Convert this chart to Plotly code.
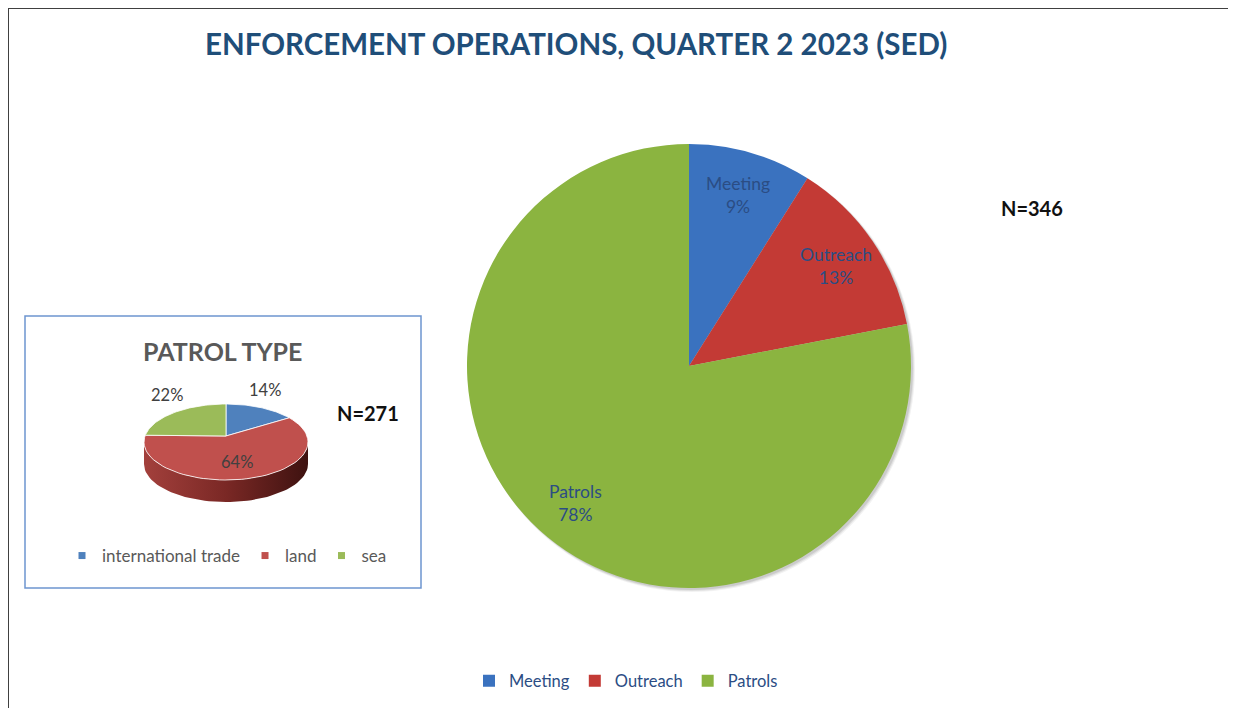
import math
import plotly.graph_objects as go

W, H = 1236, 708
OFF = 8  # page body margin: figure starts 8px in from the window edge
FONT = "Lato"

# main pie: enforcement operations, N=346
OPS_LABELS = ["Meeting", "Outreach", "Patrols"]
OPS_COUNTS = [31, 45, 270]
OPS_COLORS = ["#3a72bf", "#c33a35", "#8bb440"]

# inset pie: patrol type, N=271
PATROL_LABELS = ["international trade", "land", "sea"]
PATROL_COUNTS = [38, 173, 60]
PATROL_TOP = ["#4f81bd", "#c0504d", "#9bbb59"]
PATROL_SIDE = [
    [[0, "#4a74a8"], [1, "#1f3a5e"]],
    [[0, "#a3403c"], [0.5, "#7a2825"], [1, "#3e1210"]],
    [[0, "#86a24a"], [1, "#4a5e24"]],
]

LABEL_BLUE = "#2b4d84"
TITLE_BLUE = "#1f4e79"
GREY = "#595959"

# pixel geometry (window coordinates)
PIE_CX, PIE_CY, PIE_R = 689, 366, 222
CX, CY, RX, RY, DEPTH, APEX_DY = 226, 442, 82, 38, 22, -6

FW, FH = W - OFF, H - OFF


def px(x):
    return (x - OFF) / FW


def py(y):
    return 1 - (y - OFF) / FH


def ell(theta, dy=0):
    # theta in degrees, clockwise from 12 o'clock
    t = math.radians(theta)
    return CX + RX * math.sin(t), CY - RY * math.cos(t) + dy


def arc(a, b, dy=0, n=60):
    pts = [ell(a + (b - a) * i / n, dy) for i in range(n + 1)]
    return [p[0] for p in pts], [p[1] for p in pts]


fig = go.Figure()

# main pie shadow
for k, alpha in [(4, 0.05), (3, 0.07), (2, 0.09)]:
    fig.add_shape(type="circle", xref="x", yref="y", layer="below",
                  x0=PIE_CX - PIE_R + 2, x1=PIE_CX + PIE_R + k,
                  y0=PIE_CY - PIE_R + 2, y1=PIE_CY + PIE_R + k,
                  fillcolor=f"rgba(0,0,0,{alpha})", line=dict(width=0))

fig.add_trace(go.Pie(
    labels=OPS_LABELS, values=OPS_COUNTS, sort=False,
    direction="clockwise", rotation=0,
    marker=dict(colors=OPS_COLORS, line=dict(width=0)),
    textinfo="none", hoverinfo="label+value+percent",
    domain=dict(x=[px(PIE_CX - PIE_R), px(PIE_CX + PIE_R)],
                y=[py(PIE_CY + PIE_R), py(PIE_CY - PIE_R)]),
    legend="legend",
))

total = sum(OPS_COUNTS)
cum = 0
for lab, v in zip(OPS_LABELS, OPS_COUNTS):
    mid = math.radians(360 * (cum + v / 2) / total)
    cum += v
    fig.add_annotation(
        x=PIE_CX + 0.8 * PIE_R * math.sin(mid), y=PIE_CY - 0.8 * PIE_R * math.cos(mid),
        xref="x", yref="y", showarrow=False,
        text=f"{lab}<br>{round(100 * v / total)}%",
        font=dict(family=FONT, size=17.5, color=LABEL_BLUE),
    )

# inset 3D pie: sides first, then tops
ptotal = sum(PATROL_COUNTS)
bounds = []
cum = 0
for v in PATROL_COUNTS:
    bounds.append((360 * cum / ptotal, 360 * (cum + v) / ptotal))
    cum += v

for (a, b), cs in zip(bounds, PATROL_SIDE):
    lo, hi = max(a, 90), min(b, 270)
    if hi <= lo:
        continue
    tx, ty = arc(lo, hi)
    bx, by = arc(lo, hi, DEPTH)
    fig.add_trace(go.Scatter(
        x=tx + bx[::-1] + [tx[0]], y=ty + by[::-1] + [ty[0]],
        mode="lines", fill="toself", line=dict(width=0),
        fillgradient=dict(type="horizontal", colorscale=cs),
        hoverinfo="skip", showlegend=False,
    ))

for (a, b), col in zip(bounds, PATROL_TOP):
    ax, ay = arc(a, b)
    fig.add_trace(go.Scatter(
        x=[CX] + ax + [CX], y=[CY + APEX_DY] + ay + [CY + APEX_DY],
        mode="lines", fill="toself", fillcolor=col,
        line=dict(width=1, color="rgba(255,255,255,0.8)"),
        hoverinfo="skip", showlegend=False,
    ))

for (a, b), v in zip(bounds, PATROL_COUNTS):
    share = v / ptotal
    t = math.radians((a + b) / 2)
    if share < 0.3:
        lx = CX + RX * 1.12 * math.sin(t)
        ly = CY - RY * math.cos(t) - 18
    else:
        lx = CX + RX * 0.55 * math.sin(t)
        ly = CY - RY * 0.55 * math.cos(t)
    fig.add_annotation(x=lx, y=ly, xref="x", yref="y", showarrow=False,
                       text=f"{round(100 * share)}%",
                       font=dict(family=FONT, size=16.5, color="#404040"))

for lab, col in zip(PATROL_LABELS, PATROL_TOP):
    fig.add_trace(go.Scatter(
        x=[None], y=[None], mode="markers", name=lab,
        marker=dict(symbol="square", size=7, color=col),
        legend="legend2",
    ))

# spreadsheet frame
shapes = [
    dict(type="line", x0=8, x1=W, y0=8, y1=8, line=dict(color="#404040", width=2)),
    dict(type="line", x0=8, x1=8, y0=8, y1=H, line=dict(color="#404040", width=2)),
    dict(type="rect", x0=25, x1=421, y0=316, y1=588, line=dict(color="#6d95d0", width=1.5)),
]
for s in shapes:
    s.update(xref="x", yref="y")
    fig.add_shape(**s)

texts = [
    (576, 43, "<b>ENFORCEMENT OPERATIONS, QUARTER 2 2023 (SED)</b>", 29.5, TITLE_BLUE),
    (1032, 208, "<b>N=346</b>", 20, "#111111"),
    (368, 413, "<b>N=271</b>", 20, "#111111"),
    (222, 351, "<b>PATROL TYPE</b>", 25, GREY),
]
for tx_, ty_, txt, sz, col in texts:
    fig.add_annotation(x=tx_, y=ty_, xref="x", yref="y", showarrow=False, text=txt,
                       font=dict(family=FONT, size=sz, color=col))

fig.update_layout(
    width=FW, height=FH,
    margin=dict(l=0, r=0, t=0, b=0),
    paper_bgcolor="white", plot_bgcolor="rgba(0,0,0,0)",
    xaxis=dict(range=[OFF, W], visible=False, fixedrange=True),
    yaxis=dict(range=[H, OFF], visible=False, fixedrange=True),
    legend=dict(orientation="h", x=px(626), y=py(681), xanchor="center", yanchor="middle",
                font=dict(family=FONT, size=16.5, color=LABEL_BLUE), itemwidth=30),
    legend2=dict(orientation="h", x=px(227), y=py(556), xanchor="center", yanchor="middle",
                 font=dict(family=FONT, size=17, color=GREY), itemwidth=30),
    font=dict(family=FONT),
)

fig.write_html("out.html")
